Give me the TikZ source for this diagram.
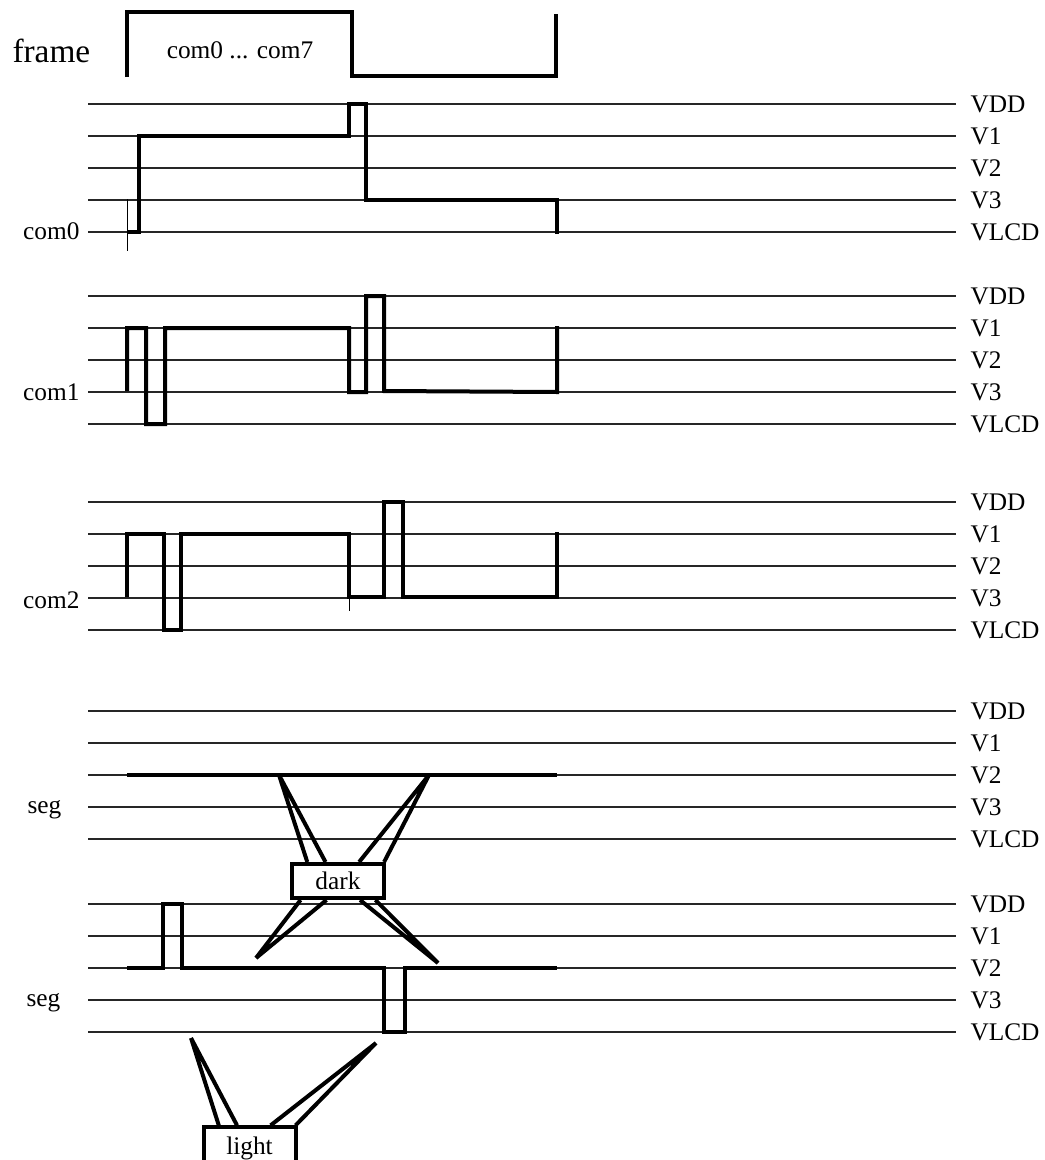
\documentclass[tikz,border=0pt]{standalone}
\usepackage{fontspec}
\setmainfont{Liberation Serif}
\usetikzlibrary{calc}

\tikzset{every picture/.style={line width=0.75pt}}
\tikzset{
  rail/.style={line width=1pt, color=black!85},
  wave/.style={line width=3pt, line join=miter},
  link/.style={line width=3pt},
  lvl/.style={anchor=west, inner sep=0pt, font=\fontsize{19}{19}\selectfont},
  sig/.style={inner sep=0pt, font=\fontsize{19}{19}\selectfont},
  state/.style={draw, line width=3pt, minimum width=69pt, minimum height=25.5pt, inner sep=0pt, font=\fontsize{19}{19}\selectfont}
}

\begin{document}
\begin{tikzpicture}[x=0.75pt,y=0.75pt,yscale=-1,xscale=1]
            \useasboundingbox (0,0) rectangle (1045,1160);

            % voltage rails
            \foreach \top/\grp in {104/c0,296/c1,502/c2,711/s1,904/s2}{
              \foreach \lvl [count=\i from 0] in {VDD,V1,V2,V3,VLCD}{
                \draw[rail] (88,\top+32*\i) -- (956,\top+32*\i);
                \node[lvl] (\grp-\lvl) at (970,\top+32*\i) {\lvl};
              }
            }

            % frame
            \node[sig, anchor=west, font=\fontsize{25}{25}\selectfont] (frm) at (12,51) {frame};
            \node[sig] (coms) at (240,50) {com0 ... com7};
            \draw[wave] (127,77) -- (127,12) -- (352,12) -- (352,76) -- (556,76) -- (556,14);

            % com0
            \node[sig, anchor=east] (com0) at (80,231) {com0};
            \draw (127,199) -- (127,251);
            \draw[wave] (127,232) -- (139,232) -- (139,136) -- (349,136) -- (349,104) -- (366,104) -- (366,200) -- (557,200) -- (557,234);

            % com1
            \node[sig, anchor=east] (com1) at (80,392) {com1};
            \draw[wave] (127,391) -- (127,328) -- (146,328) -- (146,424) -- (165,424) -- (165,328) -- (349,328) -- (349,392) -- (366,392) -- (366,296) -- (384,296) -- (384,391) -- (557,392) -- (557,326);

            % com2
            \node[sig, anchor=east] (com2) at (80,600) {com2};
            \draw (349,534) -- (349,611);
            \draw[wave] (127,597) -- (127,534) -- (164,534) -- (164,630) -- (181,630) -- (181,534) -- (349,534) -- (349,597) -- (384,597) -- (384,502) -- (403,502) -- (403,597) -- (557,597) -- (557,532);

            % seg (dark)
            \node[sig, anchor=base west] (seg1) at (27,813) {seg};
            \draw[wave] (127,775) -- (557,775);

            % seg (light)
            \node[sig, anchor=base west] (seg2) at (26,1006) {seg};
            \draw[wave] (127,968) -- (163,968) -- (163,904) -- (182,904) -- (182,968) -- (384,968) -- (384,1032) -- (405,1032) -- (405,968) -- (557,968);

            % dark / light pointers
            \node[state] (dark) at (338,881) {dark};
            \node[state, minimum height=31pt] (light) at (249.5,1148) {light};

            \coordinate (dtl) at (279,775);
            \coordinate (dtr) at (429,775);
            \coordinate (dbl) at (256,958);
            \coordinate (dbr) at (438,963);
            \coordinate (ll) at (191,1038);
            \coordinate (lr) at (376,1043);

            \draw[link] (dtl) -- ($(dark.north west)!0.18!(dark.north east)$) (dtl) -- ($(dark.north west)!0.37!(dark.north east)$);
            \draw[link] (dtr) -- ($(dark.north west)!0.72!(dark.north east)$) (dtr) -- ($(dark.north west)!0.98!(dark.north east)$);
            \draw[link] (dbl) -- ($(dark.south west)!0.11!(dark.south east)$) (dbl) -- ($(dark.south west)!0.38!(dark.south east)$);
            \draw[link] (dbr) -- ($(dark.south west)!0.73!(dark.south east)$) (dbr) -- ($(dark.south west)!0.89!(dark.south east)$);
            \draw[link] (ll) -- ($(light.north west)!0.18!(light.north east)$) (ll) -- ($(light.north west)!0.37!(light.north east)$);
            \draw[link] (lr) -- ($(light.north west)!0.72!(light.north east)$) (lr) -- ($(light.north west)!0.98!(light.north east)$);

        \end{tikzpicture}
\end{document}
